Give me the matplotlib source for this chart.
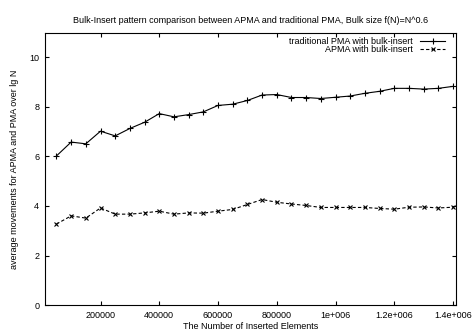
import numpy as np
import matplotlib
matplotlib.use("Agg")
import matplotlib.pyplot as plt

plt.rcParams['font.family'] = ['Liberation Sans', 'DejaVu Sans']

# inserted elements, 50000 step
n_inserted = [50000 * (i + 1) for i in range(28)]

pma_bulk = [6.02, 6.58, 6.51, 7.02, 6.83, 7.13, 7.38, 7.73, 7.60, 7.69,
            7.80, 8.06, 8.11, 8.26, 8.48, 8.50, 8.38, 8.38, 8.34, 8.39,
            8.44, 8.55, 8.63, 8.75, 8.75, 8.72, 8.75, 8.83]
apma_bulk = [3.27, 3.60, 3.51, 3.92, 3.67, 3.67, 3.72, 3.79, 3.67, 3.72,
             3.71, 3.79, 3.86, 4.06, 4.26, 4.15, 4.08, 4.02, 3.94, 3.94,
             3.94, 3.94, 3.90, 3.87, 3.95, 3.96, 3.92, 3.95]

xticks = [200000, 400000, 600000, 800000, 1000000, 1200000, 1400000]
xtick_labels = ['200000', '400000', '600000', '800000', '1e+006', '1.2e+006', '1.4e+006']
yticks = [0, 2, 4, 6, 8, 10]

fs = 6.5

fig = plt.figure(figsize=(4.72, 3.33), dpi=100)
ax = fig.add_axes([0.0947, 0.084, 0.8713, 0.818])

ax.plot(n_inserted, pma_bulk, color='black', lw=0.8, marker='+', ms=4,
        mew=0.8, label='traditional PMA with bulk-insert')
ax.plot(n_inserted, apma_bulk, color='black', lw=0.8, ls='--', dashes=(3, 2),
        marker='x', ms=2.6, mew=0.8, label='APMA with bulk-insert')

ax.set_xlim(10000, 1410000)
ax.set_ylim(0, 11)
ax.set_xticks(xticks)
ax.set_xticklabels(xtick_labels)
ax.set_yticks(yticks)
ax.tick_params(direction='in', length=3, width=0.8, top=True, right=True,
               labelsize=fs, pad=4)
for s in ax.spines.values():
    s.set_linewidth(0.8)

ax.set_title('Bulk-Insert pattern comparison between APMA and traditional PMA, Bulk size f(N)=N^0.6',
             fontsize=fs, pad=7)
ax.set_xlabel('The Number of Inserted Elements', fontsize=fs, labelpad=2)
ax.set_ylabel('average movements for APMA and PMA over lg N', fontsize=fs, labelpad=7)

leg = ax.legend(loc='upper right', bbox_to_anchor=(0.985, 1.0), frameon=False,
                fontsize=fs, markerfirst=False, handlelength=2.8,
                handletextpad=0.8, borderaxespad=0, borderpad=0.5,
                labelspacing=-0.15)
for t in leg.get_texts():
    t.set_ha('right')

fig.savefig('out.png', dpi=100)
